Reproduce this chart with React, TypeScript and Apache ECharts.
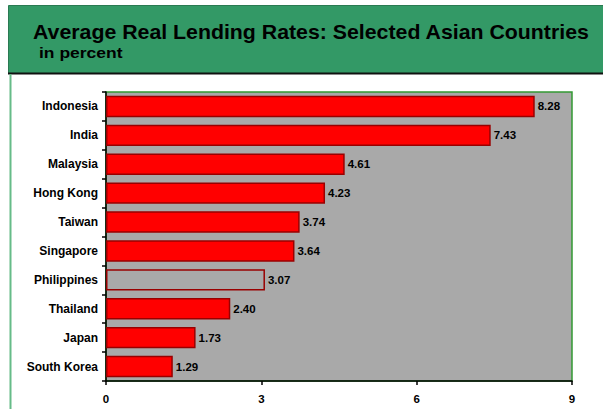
import React, { useEffect, useRef } from "react";
import * as echarts from "echarts";

const categories = [
  "Indonesia",
  "India",
  "Malaysia",
  "Hong Kong",
  "Taiwan",
  "Singapore",
  "Philippines",
  "Thailand",
  "Japan",
  "South Korea",
];
const values = [8.28, 7.43, 4.61, 4.23, 3.74, 3.64, 3.07, 2.4, 1.73, 1.29];
const hollowCategories = ["Philippines"];
const xTicks = { min: 0, max: 9, interval: 3 };

const FONT = "'Liberation Sans', Arial, sans-serif";

export default function App() {
  const ref = useRef<HTMLDivElement>(null);
  useEffect(() => {
    if (!ref.current) return;
    const chart = echarts.init(ref.current, undefined, { renderer: "svg" });
    const data = values.map((v, i) => {
      const hollow = hollowCategories.includes(categories[i]);
      return {
        value: v,
        itemStyle: hollow
          ? { color: "rgba(0,0,0,0)", borderColor: "#990000", borderWidth: 1.5 }
          : { color: "#ff0000", borderColor: "#990000", borderWidth: 1.5 },
      };
    });
    chart.setOption({
      animation: false,
      backgroundColor: "#ffffff",
      graphic: [
        {
          type: "rect",
          z: 0,
          shape: { x: 8.5, y: 5.5, width: 600, height: 68 },
          style: { fill: "#339966", stroke: "#2a7a52", lineWidth: 1 },
        },
        {
          type: "line",
          z: 1,
          shape: { x1: 8, y1: 73.5, x2: 603, y2: 73.5 },
          style: { stroke: "#111111", lineWidth: 2 },
        },
        {
          type: "line",
          z: 1,
          shape: { x1: 10.5, y1: 74, x2: 10.5, y2: 409 },
          style: { stroke: "#66bb88", lineWidth: 2 },
        },
        {
          type: "text",
          z: 2,
          x: 33,
          y: 22,
          scaleX: 1.065,
          style: {
            text: "Average Real Lending Rates: Selected Asian Countries",
            font: `bold 20px ${FONT}`,
            fill: "#000000",
          },
        },
        {
          type: "text",
          z: 2,
          x: 39,
          y: 46,
          scaleX: 1.25,
          style: {
            text: "in percent",
            font: `bold 14px ${FONT}`,
            fill: "#000000",
          },
        },
      ],
      grid: {
        left: 106,
        right: 31,
        top: 92,
        bottom: 28,
        show: true,
        backgroundColor: "#a9a9a9",
        borderColor: "#339933",
        borderWidth: 1.5,
      },
      xAxis: {
        type: "value",
        min: xTicks.min,
        max: xTicks.max,
        interval: xTicks.interval,
        axisLine: { show: true, lineStyle: { color: "#000000", width: 1.5 } },
        axisTick: { show: true, length: 4, lineStyle: { color: "#000000", width: 1.5 } },
        splitLine: { show: false },
        axisLabel: {
          margin: 12,
          color: "#000000",
          fontFamily: FONT,
          fontWeight: "bold",
          fontSize: 11.5,
        },
      },
      yAxis: {
        type: "category",
        inverse: true,
        data: categories,
        axisLine: { show: true, lineStyle: { color: "#000000", width: 1.5 } },
        axisTick: { show: true, length: 4, alignWithLabel: false, lineStyle: { color: "#000000", width: 1.5 } },
        axisLabel: {
          margin: 8,
          color: "#000000",
          fontFamily: FONT,
          fontWeight: "bold",
          fontSize: 12,
        },
      },
      series: [
        {
          type: "bar",
          data,
          barWidth: "74%",
          label: {
            show: true,
            position: "right",
            distance: 3,
            color: "#000000",
            fontFamily: FONT,
            fontWeight: "bold",
            fontSize: 11.5,
            formatter: (p: any) => p.value.toFixed(2),
          },
        },
      ],
    });
    return () => chart.dispose();
  }, []);
  return (
    <div
      ref={ref}
      style={{ position: "fixed", left: 0, top: 0, width: 603, height: 409 }}
    />
  );
}
